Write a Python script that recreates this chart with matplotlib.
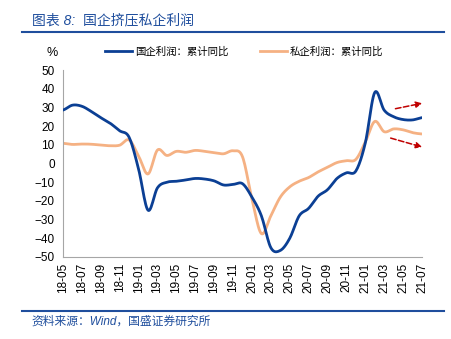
import matplotlib
matplotlib.use("Agg")
from matplotlib import pyplot as plt
import numpy as np

# 月份 2018-05 ~ 2021-07
months = ["18-05", "18-06", "18-07", "18-08", "18-09", "18-10", "18-11", "18-12",
          "19-01", "19-02", "19-03", "19-04", "19-05", "19-06", "19-07", "19-08",
          "19-09", "19-10", "19-11", "19-12", "20-01", "20-02", "20-03", "20-04",
          "20-05", "20-06", "20-07", "20-08", "20-09", "20-10", "20-11", "20-12",
          "21-01", "21-02", "21-03", "21-04", "21-05", "21-06", "21-07"]

soe = [28.6, 31.2, 30.6, 27.8, 24.5, 21.5, 17.5, 14.0,
       -3.0, -25.0, -13.0, -10.0, -9.5, -8.8, -8.0, -8.3,
       -9.3, -11.5, -11.2, -10.8, -18.0, -28.0, -45.0, -46.5,
       -40.0, -28.0, -24.0, -17.5, -14.0, -8.0, -5.0, -4.0,
       11.0, 38.0, 28.5, 25.0, 23.5, 23.3, 24.5]

private = [10.8, 10.2, 10.4, 10.3, 9.8, 9.5, 9.8, 12.6,
           4.0, -5.6, 7.2, 4.3, 6.5, 6.0, 7.0, 6.5,
           5.8, 5.2, 6.8, 3.6, -19.0, -37.5, -28.0, -18.0,
           -12.5, -9.5, -7.5, -4.5, -2.0, 0.5, 1.5, 2.2,
           11.5, 22.5, 17.0, 18.5, 18.0, 16.5, 15.8]

blue = "#0B3F94"
orange = "#F5B183"
title_c = "#1F4E9D"

plt.rcParams["font.family"] = ["Liberation Sans", "Noto Sans CJK SC", "DejaVu Sans"]


def smooth(y, n=12):
    # Catmull-Rom 平滑，類似 Excel 的平滑線
    y = np.asarray(y, dtype=float)
    p = np.concatenate([[y[0]], y, [y[-1]]])
    xs, ys = [], []
    t = np.linspace(0, 1, n, endpoint=False)
    for i in range(len(y) - 1):
        p0, p1, p2, p3 = p[i], p[i + 1], p[i + 2], p[i + 3]
        v = 0.5 * ((2 * p1) + (-p0 + p2) * t + (2 * p0 - 5 * p1 + 4 * p2 - p3) * t ** 2
                   + (-p0 + 3 * p1 - 3 * p2 + p3) * t ** 3)
        xs.append(i + t)
        ys.append(v)
    xs.append([len(y) - 1])
    ys.append([y[-1]])
    return np.concatenate(xs), np.concatenate(ys)


fig = plt.figure(figsize=(4.52, 3.39), dpi=100)
ax = fig.add_axes([0.1394, 0.2419, 0.7942, 0.5516])

x = np.arange(len(months))
sx, sy = smooth(private)
ax.plot(sx, sy, color=orange, lw=2.0, label="私企利润：累计同比", zorder=2)
bx, by = smooth(soe)
ax.plot(bx, by, color=blue, lw=2.0, label="国企利润：累计同比", zorder=3)

ax.set_xlim(0, len(months) - 1)
ax.set_ylim(-50, 50)
ax.set_yticks(np.arange(-50, 51, 10))
ax.set_xticks(x[::2])
ax.set_xticklabels(months[::2], rotation=90, fontsize=8.5)
ax.tick_params(axis="y", labelsize=8.5, length=0, pad=6)
ax.tick_params(axis="x", length=0, pad=4)
for s in ["top", "right"]:
    ax.spines[s].set_visible(False)
for s in ["left", "bottom"]:
    ax.spines[s].set_color("#A6A6A6")
    ax.spines[s].set_linewidth(0.8)

# 虛線箭頭
ax.annotate("", xy=(38.3, 32.5), xytext=(34.9, 29.0),
            arrowprops=dict(arrowstyle="-|>", color="#C00000", lw=1.1, ls="--",
                            mutation_scale=9), annotation_clip=False)
ax.annotate("", xy=(38.3, 8.4), xytext=(34.4, 14.0),
            arrowprops=dict(arrowstyle="-|>", color="#C00000", lw=1.1, ls="--",
                            mutation_scale=9), annotation_clip=False)

# 圖例
h, l = ax.get_legend_handles_labels()
fig.legend([h[1], h[0]], [l[1], l[0]], loc="center", bbox_to_anchor=(0.54, 0.847),
           ncol=2, frameon=False, fontsize=7.5, handlelength=2.6, columnspacing=3.0,
           handletextpad=0.3)
fig.text(0.115, 0.845, "%", fontsize=9, ha="center", va="center")

# 標題與來源
fig.text(0.07, 0.94, "图表 8:  国企挤压私企利润", fontsize=10, color=title_c,
         style="italic", va="center", ha="left")
fig.add_artist(plt.Line2D([0.048, 0.982], [0.905, 0.905], color=title_c, lw=1.5))
fig.add_artist(plt.Line2D([0.048, 0.982], [0.082, 0.082], color=title_c, lw=1.5))
fig.text(0.07, 0.052, "资料来源：Wind，国盛证券研究所", fontsize=8.5, color=title_c,
         style="italic", va="center", ha="left")

fig.savefig("out.png", dpi=100)
